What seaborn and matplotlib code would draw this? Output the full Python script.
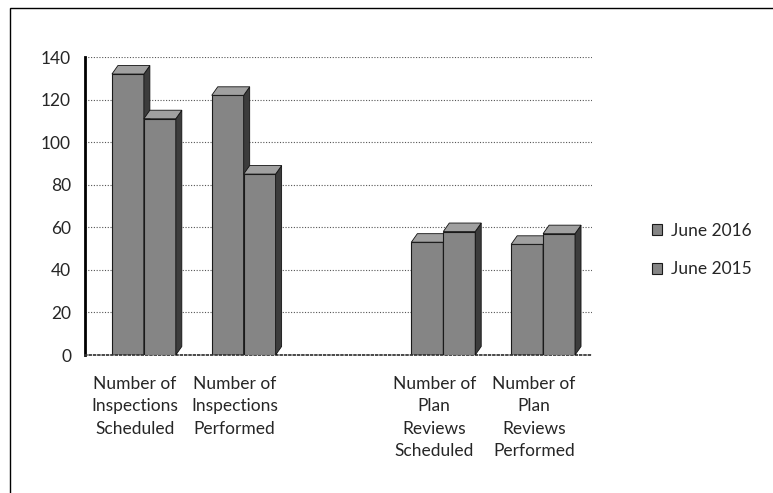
import numpy as np
import pandas as pd
import seaborn as sns
import matplotlib
matplotlib.use("Agg")
import matplotlib.pyplot as plt
from matplotlib.patches import Polygon, Rectangle

categories = ["Number of\nInspections\nScheduled", "Number of\nInspections\nPerformed", " ",
              "Number of\nPlan\nReviews\nScheduled", "Number of\nPlan\nReviews\nPerformed"]
series = ["June 2016", "June 2015"]
june_2016 = [132, 122, None, 53, 52]
june_2015 = [111, 85, None, 58, 57]
y_ticks = [0, 20, 40, 60, 80, 100, 120, 140]

rows = []
for cat, a, b in zip(categories, june_2016, june_2015):
    if a is not None:
        rows.append({"cat": cat, "series": series[0], "value": a})
    if b is not None:
        rows.append({"cat": cat, "series": series[1], "value": b})
df = pd.DataFrame(rows)

sns.set_theme(style="white")
plt.rcParams['font.family'] = ['Lato', 'DejaVu Sans']

fig = plt.figure(figsize=(7.73, 4.93), dpi=100)
ax = fig.add_axes([85/773, 1-355/493, (592-85)/773, (355-57)/493])

face = "#858585"
sns.barplot(data=df, x="cat", y="value", hue="series", order=categories,
            hue_order=series, palette=[face, face], edgecolor="#1a1a1a",
            linewidth=0.8, width=0.64, ax=ax, legend=False)

# pseudo 3D: side and top faces derived from bar geometry
shift = 0.09
dx = 0.06
dy = 4.0
n = len(ax.patches)
for i, p in enumerate(ax.patches):
    h = p.get_height()
    if np.isnan(h) or h == 0:
        continue
    p.set_x(p.get_x() + shift)
    x0, w = p.get_x(), p.get_width()
    z = 3 if i >= n // 2 else 2
    p.set_zorder(z)
    side = Polygon([(x0 + w, 0), (x0 + w + dx, dy), (x0 + w + dx, h + dy), (x0 + w, h)],
                   closed=True, facecolor="#3c3c3c", edgecolor="#111", lw=0.6, zorder=z)
    top = Polygon([(x0, h), (x0 + dx, h + dy), (x0 + w + dx, h + dy), (x0 + w, h)],
                  closed=True, facecolor="#a0a0a0", edgecolor="#111", lw=0.6, zorder=z)
    ax.add_patch(side)
    ax.add_patch(top)

ax.set_ylim(0, 140)
ax.set_xlim(-0.5, len(categories) - 0.5 + 0.08)
ax.set_yticks(y_ticks)
ax.set_yticklabels([str(t) for t in y_ticks], fontsize=12.5)
ax.set_xticks(range(len(categories)))
ax.set_xticklabels(categories, fontsize=12.5, linespacing=1.5)
ax.tick_params(axis="x", length=0, pad=15)
ax.set_xticks(np.arange(-0.5, len(categories)), minor=True)
ax.tick_params(axis="x", which="minor", length=5, width=1.2, color="black", direction="out")
ax.tick_params(axis="y", length=4, width=1, color="black", direction="out", pad=6)
ax.set_xlabel("")
ax.set_ylabel("")
ax.yaxis.grid(True, linestyle=(0, (1, 1.5)), color="#555555", linewidth=0.8)
ax.set_axisbelow(True)
for s in ["top", "right"]:
    ax.spines[s].set_visible(False)
ax.spines["left"].set_linewidth(2.0)
ax.spines["left"].set_color("black")
ax.spines["bottom"].set_linestyle((0, (1, 1.5)))
ax.spines["bottom"].set_color("#333")

handles = [Rectangle((0, 0), 1, 1, facecolor=face, edgecolor="#1a1a1a", lw=0.8) for _ in series]
fig.legend(handles, series, loc="center left", bbox_to_anchor=(636/773, 1-250/493),
           frameon=False, fontsize=12.5, handlelength=0.6, handleheight=0.6,
           handletextpad=0.5, labelspacing=1.3)

fig.patches.append(Rectangle((10/773, -0.01), 1.0, 1 - 8/493 + 0.01, transform=fig.transFigure,
                             fill=False, edgecolor="black", lw=1.0))

fig.savefig("out.png", dpi=100)
